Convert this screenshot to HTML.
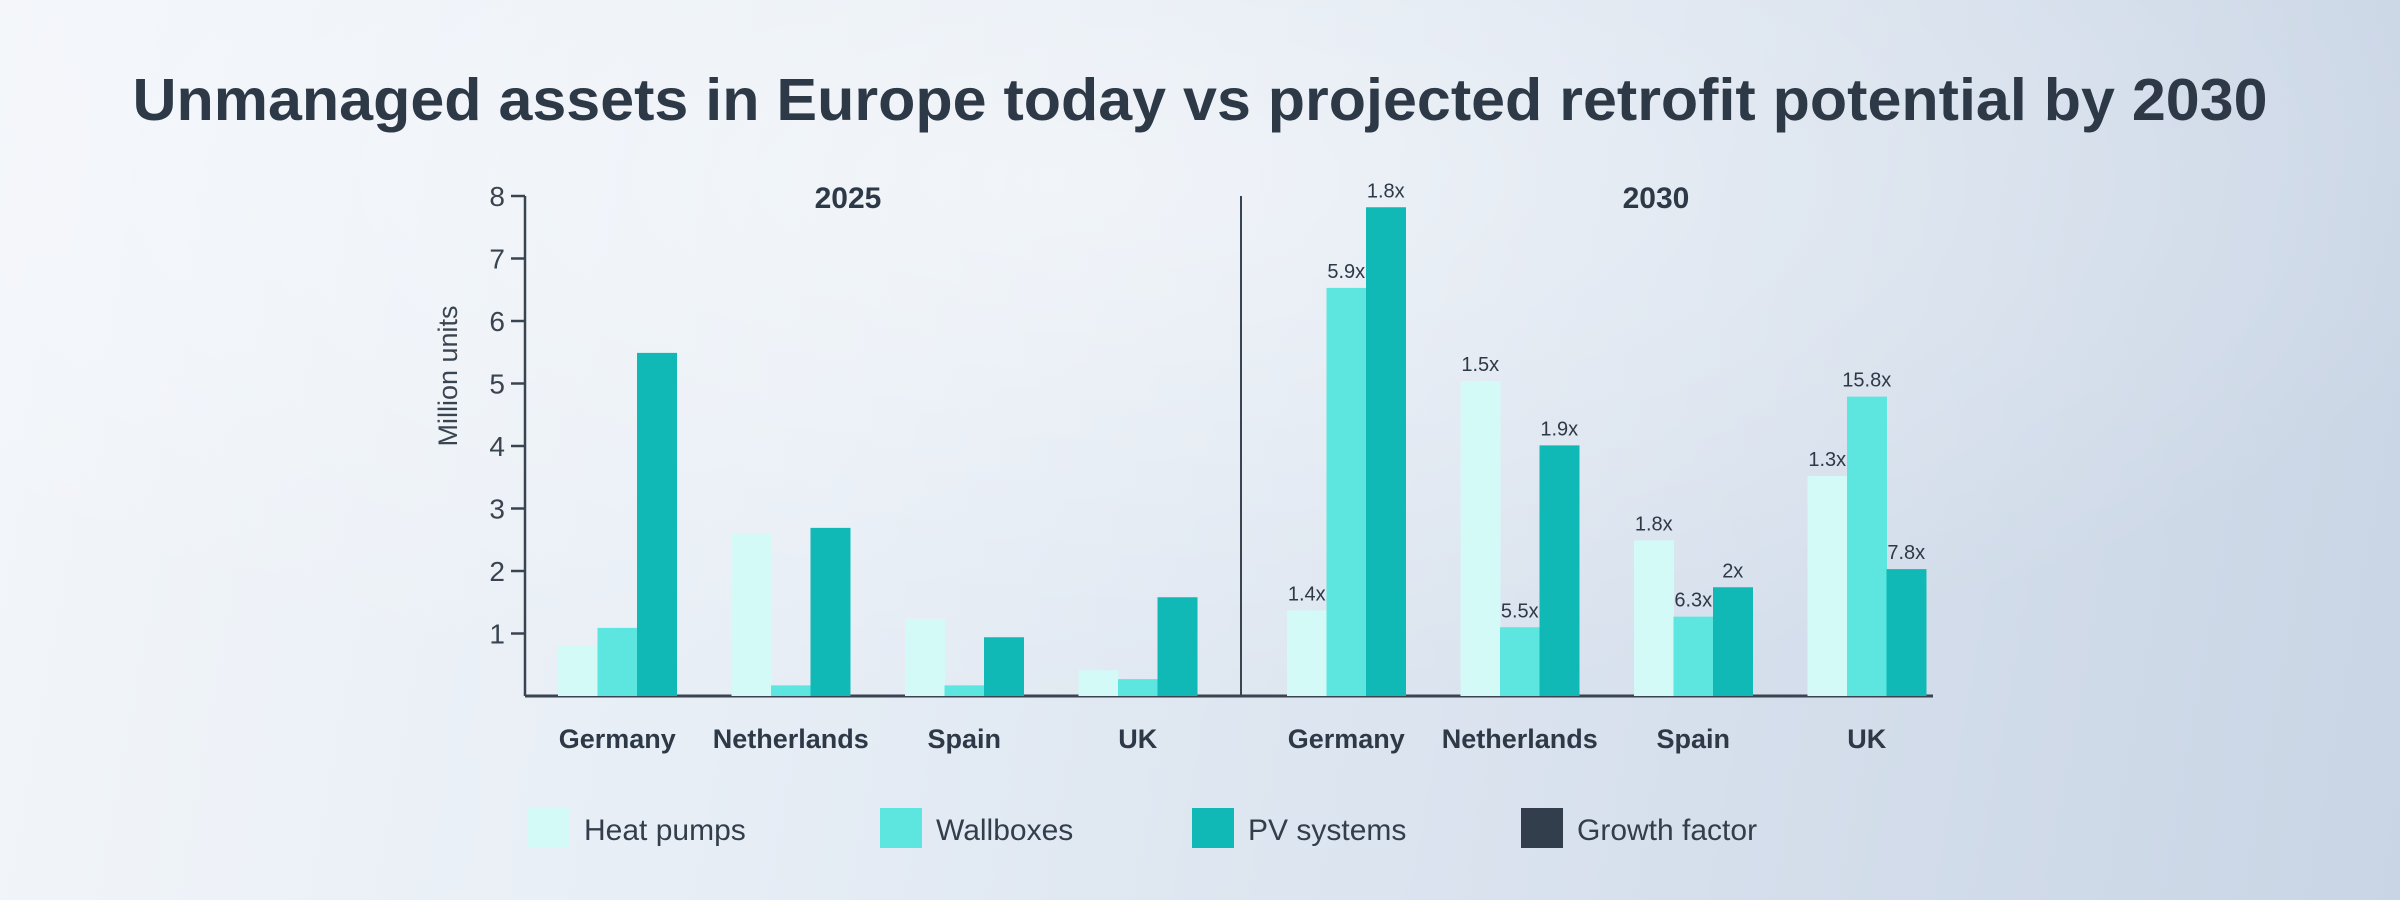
<!DOCTYPE html>
<html><head><meta charset="utf-8"><style>
html,body{margin:0;padding:0;width:2400px;height:900px;overflow:hidden}
body{background:linear-gradient(100deg,#f3f6fa 0%,#e6edf5 35%,#d9e2ee 65%,#c9d5e5 100%);font-family:"Liberation Sans",sans-serif}
svg{position:absolute;left:0;top:0}
</style></head><body>
<svg id="chart" width="2400" height="900">
<defs>
<radialGradient id="glow" cx="0.45" cy="0.2" r="0.6"><stop offset="0" stop-color="#ffffff" stop-opacity="0.5"/><stop offset="1" stop-color="#ffffff" stop-opacity="0"/></radialGradient>
</defs>
<rect width="2400" height="900" fill="url(#glow)"/>
<text x="1200" y="120" text-anchor="middle" font-size="59" font-weight="bold" fill="#2e3947" textLength="2135" lengthAdjust="spacingAndGlyphs">Unmanaged assets in Europe today vs projected retrofit potential by 2030</text>
<g id="plot"></g>
</svg>
<script>
const categories = ["Germany","Netherlands","Spain","UK"];
const series = ["Heat pumps","Wallboxes","PV systems"];
const v2025HeatPumps = [0.8,2.59,1.23,0.41];
const v2025Wallboxes = [1.09,0.17,0.17,0.27];
const v2025PV = [5.49,2.69,0.94,1.58];
const v2030HeatPumps = [1.37,5.04,2.49,3.52];
const v2030Wallboxes = [6.53,1.1,1.27,4.79];
const v2030PV = [7.82,4.01,1.74,2.03];
const g2030HeatPumps = ["1.4x","1.5x","1.8x","1.3x"];
const g2030Wallboxes = ["5.9x","5.5x","6.3x","15.8x"];
const g2030PV = ["1.8x","1.9x","2x","7.8x"];
const yTicks = [1,2,3,4,5,6,7,8];
const colors = ["#d4faf8","#5ce6df","#10b9b5"];

const NS="http://www.w3.org/2000/svg";
const plot=document.getElementById('plot');
const x0=525, x1=1933, yBase=696, yTop=196, yMax=8;
const y=v=>yBase-(v/yMax)*(yBase-yTop);
const barW=39.5, groupStep=173.5;
const panelStart=[558,1287];
function el(tag,attrs,parent){const e=document.createElementNS(NS,tag);for(const k in attrs)e.setAttribute(k,attrs[k]);(parent||plot).appendChild(e);return e;}
const bx=(p,c,s)=>panelStart[p]+c*groupStep+s*barW;

let a=el('line',{x1:x0,y1:yTop,x2:x0,y2:yBase,stroke:'#3a4450','stroke-width':2.5});


yTicks.forEach(t=>{
  let tk=el('line',{x1:x0-14,y1:y(t),x2:x0,y2:y(t),stroke:'#3a4450','stroke-width':2.5});
  
  
  let tl=el('text',{x:x0-20,y:y(t)+10,'text-anchor':'end','font-size':28,fill:'#3a4450'});
  tl.textContent=t;
  
  
});
let yl=el('text',{x:0,y:0,transform:'translate(457,376) rotate(-90)','text-anchor':'middle','font-size':27,fill:'#3a4450'});
yl.textContent='Million units';


let xa=el('line',{x1:x0,y1:yBase,x2:x1,y2:yBase,stroke:'#3a4450','stroke-width':3});


let dv=el('line',{x1:1241,y1:yTop,x2:1241,y2:yBase,stroke:'#3a4450','stroke-width':2});



const panels=[["2025",[v2025HeatPumps,v2025Wallboxes,v2025PV],null],["2030",[v2030HeatPumps,v2030Wallboxes,v2030PV],[g2030HeatPumps,g2030Wallboxes,g2030PV]]];
panels.forEach((pn,p)=>{
  let pt=el('text',{x:p===0?848:1656,y:208,'text-anchor':'middle','font-size':30,'font-weight':'bold',fill:'#2e3947'});
  pt.textContent=pn[0];
  
  
  categories.forEach((c,ci)=>{
    pn[1].forEach((vals,si)=>{
      const X=bx(p,ci,si);
      let r=el('rect',{x:X,y:y(vals[ci]),width:barW+0.5,height:yBase-y(vals[ci]),fill:colors[si]});
      
      
      if(pn[2]){
        let gl=el('text',{x:X+barW/2,y:y(vals[ci])-10,'text-anchor':'middle','font-size':20,fill:'#2e3947'});
        gl.textContent=pn[2][si][ci];
        
        
      }
    });
    let cl=el('text',{x:bx(p,ci,1.5),y:748,'text-anchor':'middle','font-size':27,'font-weight':'bold',fill:'#2e3947'});
    cl.textContent=c;
    
    
  });
});

const legendLabels=["Heat pumps","Wallboxes","PV systems","Growth factor"];
const legendColors=["#d4faf8","#5ce6df","#10b9b5","#333e4c"];
const legendX=[528,880,1192,1521];
legendLabels.forEach((l,i)=>{
  let s=el('rect',{x:legendX[i],y:808,width:42,height:40,fill:legendColors[i]});
  
  
  let t=el('text',{x:legendX[i]+56,y:840,'font-size':30,fill:'#333e4c'});
  t.textContent=l;
  
  
});
</script>
</body></html>
